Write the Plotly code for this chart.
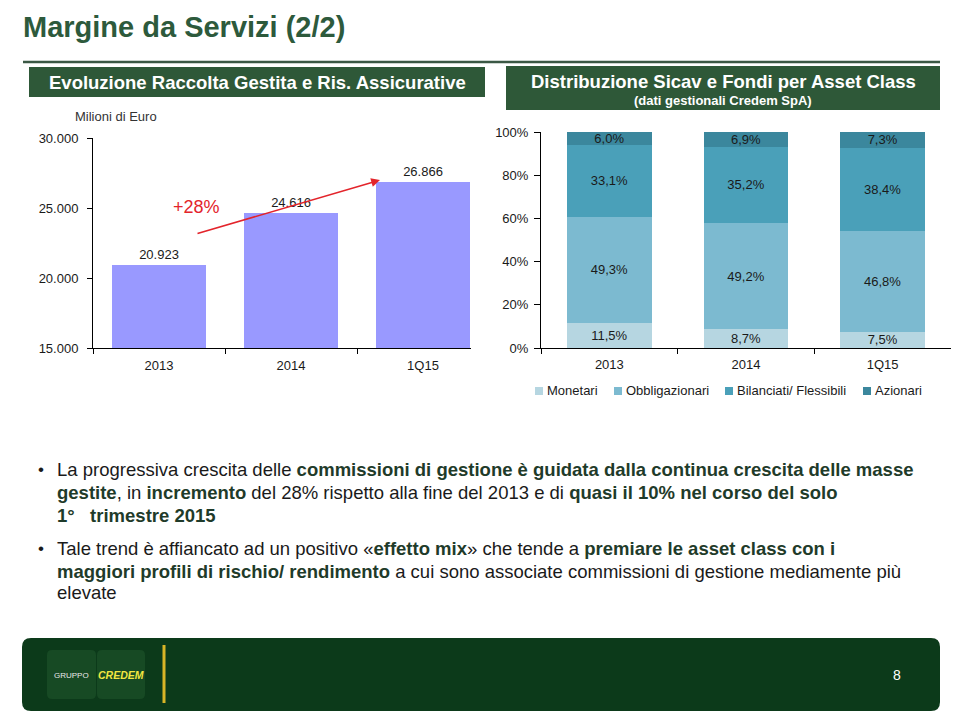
import plotly.graph_objects as go

W, H = 960, 720
def px(x): return x / W
def py(y): return 1 - y / H

# ---------------- data ----------------
years = ["2013", "2014", "1Q15"]
raccolta = [20923, 24616, 26866]
raccolta_ticks = [15000, 20000, 25000, 30000]
raccolta_ticktext = ["15.000", "20.000", "25.000", "30.000"]

asset_classes = ["Monetari", "Obbligazionari", "Bilanciati/ Flessibili", "Azionari"]
monetari = [11.5, 8.7, 7.5]
obbligazionari = [49.3, 49.2, 46.8]
bilanciati = [33.1, 35.2, 38.4]
azionari = [6.0, 6.9, 7.3]
pct_ticks = [0, 20, 40, 60, 80, 100]
pct_ticktext = ["0%", "20%", "40%", "60%", "80%", "100%"]
asset_colors = ["#b6d6e1", "#7cbad0", "#4aa0b9", "#3b879d"]

FONT = "Liberation Sans, Arial, sans-serif"
GREEN = "#2d5a3c"
TXT = "#1a1a1a"

fig = go.Figure()

fig.add_trace(go.Bar(
    x=years, y=raccolta, xaxis="x", yaxis="y",
    marker=dict(color="#9999ff", line=dict(width=0)), width=0.705,
    texttemplate="%{y:,d}", textposition="outside", cliponaxis=False,
    textfont=dict(size=13, color=TXT, family=FONT), showlegend=False,
))

for name, vals, col in zip(asset_classes, [monetari, obbligazionari, bilanciati, azionari], asset_colors):
    fig.add_trace(go.Bar(
        x=years, y=vals, name=name, xaxis="x2", yaxis="y2",
        marker=dict(color=col, line=dict(width=0)), width=0.62,
        texttemplate="%{y:.1f}%", textposition="inside", insidetextanchor="middle",
        textfont=dict(size=13, color=TXT, family=FONT), showlegend=False,
        constraintext="none",
    ))

axis_common = dict(showline=True, linecolor="#000", linewidth=1, ticks="outside",
                   tickcolor="#000", showgrid=False, zeroline=False, automargin=False,
                   tickfont=dict(size=13, color=TXT, family=FONT), fixedrange=True)

fig.update_layout(
    width=W, height=H, margin=dict(l=0, r=0, t=0, b=0, pad=0, autoexpand=False),
    paper_bgcolor="white", plot_bgcolor="rgba(0,0,0,0)",
    separators=",.", barmode="stack", showlegend=False,
    uniformtext=dict(minsize=13, mode="show"),
    font=dict(family=FONT, color=TXT),
    xaxis=dict(domain=[px(93), px(489)], anchor="y", tickson="boundaries", ticklen=5,
               ticklabelstandoff=5, **axis_common),
    yaxis=dict(domain=[py(348), py(138)], anchor="x", range=[15000, 30000],
               tickvals=raccolta_ticks, ticktext=raccolta_ticktext, ticklen=5,
               ticklabelstandoff=6, **axis_common),
    xaxis2=dict(domain=[px(541), px(951)], anchor="y2", tickson="boundaries", ticklen=5,
                ticklabelstandoff=4, **axis_common),
    yaxis2=dict(domain=[py(348), py(132)], anchor="x2", range=[0, 100],
                tickvals=pct_ticks, ticktext=pct_ticktext, ticklen=6,
                ticklabelstandoff=3, **axis_common),
)

shapes = []
ann = []

def rect(x0, y0, x1, y1, color, layer="above", line=None):
    shapes.append(dict(type="rect", xref="paper", yref="paper",
                       x0=px(x0), x1=px(x1), y0=py(y1), y1=py(y0),
                       fillcolor=color, line=line or dict(width=0), layer=layer))

def rounded(x0, y0, x1, y1, r, color, layer="above", line=None):
    rx, ry = r / W, r / H
    X0, X1, Y0, Y1 = px(x0), px(x1), py(y1), py(y0)
    path = (f"M {X0+rx},{Y0} L {X1-rx},{Y0} Q {X1},{Y0} {X1},{Y0+ry} "
            f"L {X1},{Y1-ry} Q {X1},{Y1} {X1-rx},{Y1} L {X0+rx},{Y1} "
            f"Q {X0},{Y1} {X0},{Y1-ry} L {X0},{Y0+ry} Q {X0},{Y0} {X0+rx},{Y0} Z")
    shapes.append(dict(type="path", xref="paper", yref="paper", path=path,
                       fillcolor=color, line=line or dict(width=0), layer=layer))

def text(x, y, t, size, color=TXT, xanchor="left", bold=False, family=FONT):
    ann.append(dict(xref="paper", yref="paper", x=px(x), y=py(y), text=(f"<b>{t}</b>" if bold else t),
                    showarrow=False, xanchor=xanchor, yanchor="middle",
                    font=dict(size=size, color=color, family=family)))

# title and rule
text(21, 27, "Margine da Servizi (2/2)", 29, GREEN, bold=True)
shapes.append(dict(type="line", xref="paper", yref="paper", x0=px(23), x1=px(940),
                   y0=py(62), y1=py(62), line=dict(color="#3b5845", width=2.5)))

# headers
rect(29, 67, 485, 97, "#2e5838")
text(257, 82, "Evoluzione Raccolta Gestita e Ris. Assicurative", 18.5, "white", "center", True)
rect(506, 66, 940, 110, "#2e5838")
text(723, 81, "Distribuzione Sicav e Fondi per Asset Class", 18.5, "white", "center", True)
text(723, 101, "(dati gestionali Credem SpA)", 13, "white", "center", True)

# left chart extras
text(73, 117, "Milioni di Euro", 13, "#333")
rect(471, 338, 496, 358, "white")
text(196, 207, "+28%", 18, "#e3242b", "center")
ann.append(dict(xref="paper", yref="paper", x=px(380), y=py(180), ax=-184, ay=54,
                axref="pixel", ayref="pixel", showarrow=True, arrowhead=2, arrowsize=1.1,
                arrowwidth=1.6, arrowcolor="#e3242b", text=""))

# legend of right chart
leg_x = [535, 614, 725, 863]
for name, col, lx in zip(asset_classes, asset_colors, leg_x):
    rect(lx, 387, lx + 8, 395, col)
    text(lx + 10, 391, name, 13, TXT)

# bullets
BOLD_C = "#1f3b2a"
def B(t): return f"<b><span style='color:{BOLD_C}'>{t}</span></b>"
lines = [
    (469, "La progressiva crescita delle " + B("commissioni di gestione è guidata dalla continua crescita delle masse")),
    (492, B("gestite") + ", in " + B("incremento") + " del 28% rispetto alla fine del 2013 e di " + B("quasi il 10% nel corso del solo")),
    (515, B("1°   trimestre 2015")),
    (548, "Tale trend è affiancato ad un positivo «" + B("effetto mix") + "» che tende a " + B("premiare le asset class con i")),
    (571, B("maggiori profili di rischio/ rendimento") + " a cui sono associate commissioni di gestione mediamente più"),
    (592, "elevate"),
]
for y, t in lines:
    text(55, y, t, 18.5, TXT)
for y in (469, 548):
    text(36, y, "•", 17, TXT)

# footer
rounded(22, 638, 940, 711, 9, "#0c3a1a")
rounded(47, 650, 96, 699, 5, "#174a24")
rounded(97, 650, 145, 699, 5, "#174a24")
shapes.append(dict(type="line", xref="paper", yref="paper", x0=px(164), x1=px(164),
                   y0=py(645), y1=py(703), line=dict(color="#d9b526", width=3)))
text(71, 675, "GRUPPO", 8, "#e8e8e8", "center")
text(121, 675, "<b><i>CREDEM</i></b>", 10.5, "#f2e640", "center")
text(897, 675, "8", 14, "white", "center")

fig.update_layout(shapes=shapes, annotations=ann)
fig.write_html("out.html", config={"displayModeBar": False},
               post_script="document.body.style.margin='0px';document.body.style.overflow='hidden';")
